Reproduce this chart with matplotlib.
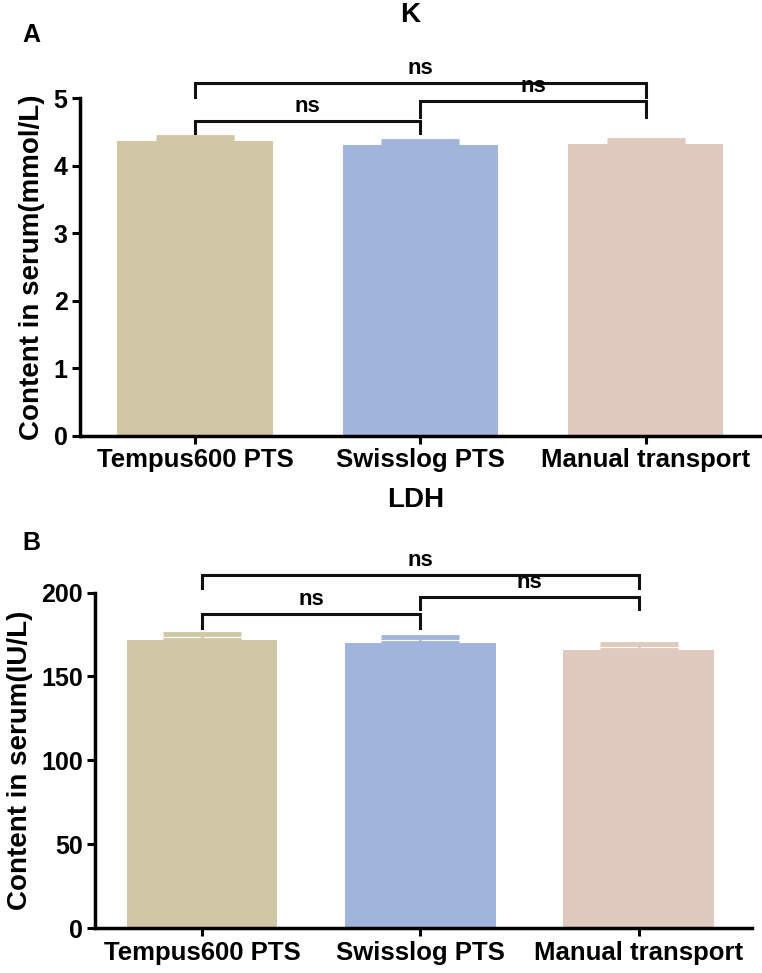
import numpy as np
import matplotlib
matplotlib.use('Agg')
import matplotlib.pyplot as plt

groups = ['Tempus600 PTS', 'Swisslog PTS', 'Manual transport']
colors = ['#D1C7A6', '#A0B4DC', '#E0C9BE']

k_means = [4.37, 4.31, 4.33]
k_err = [0.05, 0.05, 0.05]
ldh_means = [172, 170, 166]
ldh_err = [3.5, 3.5, 3.5]

# brackets: (left group, right group, bar height, left tip, right tip, label)
k_brackets = [(0, 2, 5.22, 5.02, 5.02, 'ns'),
              (0, 1, 4.66, 4.48, 4.48, 'ns'),
              (1, 2, 4.96, 4.73, 4.73, 'ns')]
ldh_brackets = [(0, 2, 210.5, 203, 203, 'ns'),
                (0, 1, 187, 179, 179, 'ns'),
                (1, 2, 197.5, 190.5, 190.5, 'ns')]

narrow = ['Liberation Sans Narrow', 'Liberation Sans', 'DejaVu Sans']
plt.rcParams['font.family'] = ['Liberation Sans', 'DejaVu Sans']


def panel(ax, means, errs, brackets, yticks, ylabel, xlim):
    x = np.arange(len(groups))
    ax.bar(x, means, width=0.69, color=colors, zorder=2)
    for xi, m, e, c in zip(x, means, errs, colors):
        ax.errorbar(xi, m, yerr=[[0], [e]], fmt='none', ecolor=c,
                    elinewidth=2, capsize=28, capthick=3.5, zorder=1)
    ymax = yticks[-1]
    for a, b, h, ta, tb, lab in brackets:
        ax.plot([a, a, b, b], [ta, h, h, tb], color='#111111', lw=2.2,
                clip_on=False, solid_joinstyle='miter')
        ax.text((a + b) / 2, h + ymax * 0.012, lab, ha='center', va='bottom',
                fontsize=16, fontweight='bold', clip_on=False)
    ax.set_ylim(0, ymax)
    ax.set_xlim(*xlim)
    ax.set_yticks(yticks)
    ax.set_xticks(x)
    ax.set_xticklabels(groups, family=narrow, fontsize=18.5, fontweight='bold')
    for t in ax.get_yticklabels():
        t.set_family(narrow)
        t.set_fontsize(18)
        t.set_fontweight('bold')
    ax.set_ylabel(ylabel, fontsize=20, fontweight='bold', labelpad=6)
    for s in ['top', 'right']:
        ax.spines[s].set_visible(False)
    for s in ['left', 'bottom']:
        ax.spines[s].set_linewidth(2.5)
    ax.tick_params(width=2.2, length=6, pad=3)


fig = plt.figure(figsize=(7.62, 9.73), dpi=100)
ax1 = fig.add_axes([0.105, 0.552, 0.893, 0.347])
ax2 = fig.add_axes([0.125, 0.046, 0.862, 0.345])

panel(ax1, k_means, k_err, k_brackets, [0, 1, 2, 3, 4, 5],
      'Content in serum(mmol/L)', (-0.51, 2.51))
panel(ax2, ldh_means, ldh_err, ldh_brackets, [0, 50, 100, 150, 200],
      'Content in serum(IU/L)', (-0.49, 2.52))

fig.text(410 / 762, 1 - 15 / 973, 'K', ha='center', va='center',
         fontsize=20, fontweight='bold')
fig.text(416 / 762, 1 - 500 / 973, 'LDH', ha='center', va='center',
         fontsize=20, fontweight='bold')
fig.text(31 / 762, 1 - 35 / 973, 'A', ha='center', va='center',
         fontsize=18, fontweight='bold')
fig.text(31 / 762, 1 - 543 / 973, 'B', ha='center', va='center',
         fontsize=18, fontweight='bold')

plt.savefig('out.png', dpi=100)
